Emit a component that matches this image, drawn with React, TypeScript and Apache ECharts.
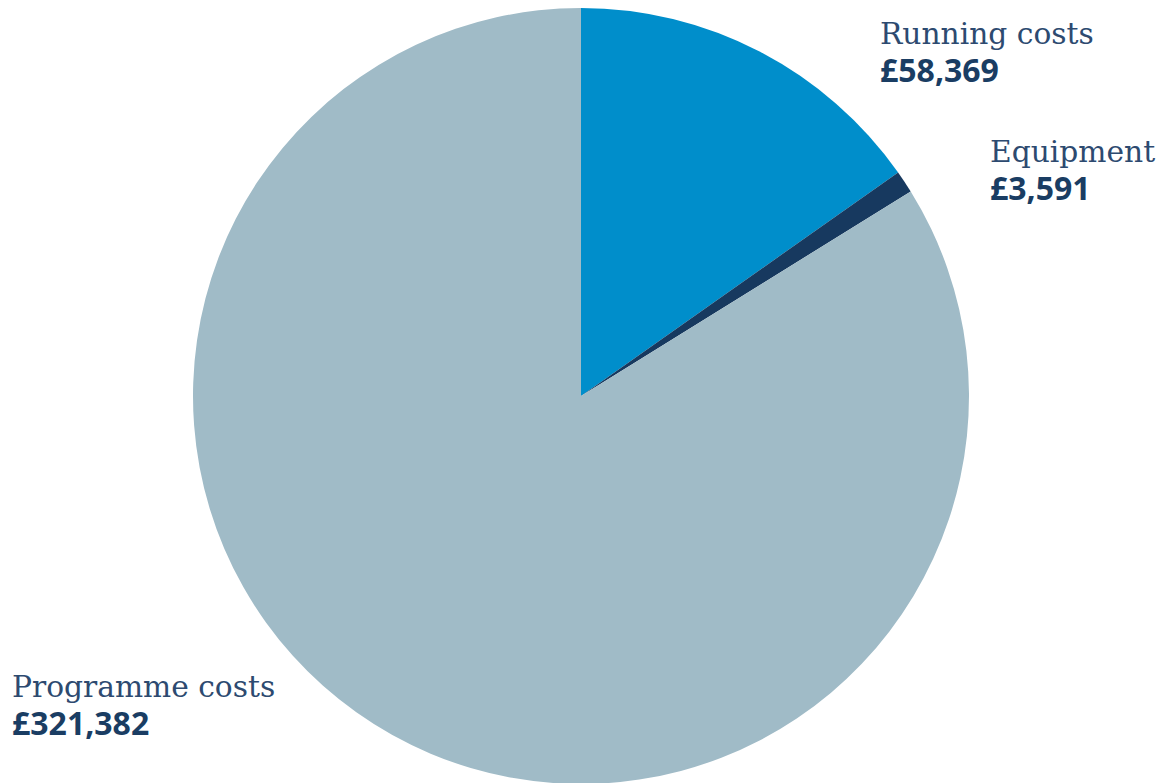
import React, { useEffect, useRef } from "react";
import * as echarts from "echarts";

const categories = ["Running costs", "Equipment", "Programme costs"];
const values = [58369, 3591, 321382];
const valueLabels = ["£58,369", "£3,591", "£321,382"];
const colors = ["#008ecb", "#17395f", "#a0bbc7"];
const labelPos = [
  [880, 18],
  [990, 136],
  [12, 671],
];

export default function App() {
  const ref = useRef<HTMLDivElement>(null);
  useEffect(() => {
    if (!ref.current) return;
    const chart = echarts.init(ref.current, null, { renderer: "svg" });
    const graphics: any[] = [];
    categories.forEach((c, i) => {
      graphics.push({
        type: "text",
        left: labelPos[i][0],
        top: labelPos[i][1],
        style: {
          text: c,
          fill: "#2d4a70",
          font: "300 29.7px 'DejaVu Serif'",
        },
      });
      graphics.push({
        type: "text",
        left: labelPos[i][0],
        top: labelPos[i][1] + 35,
        style: {
          text: valueLabels[i],
          fill: "#1a3d63",
          font: "bold 32px 'Open Sans'",
        },
      });
    });
    chart.setOption({
      animation: false,
      graphic: graphics,
      series: [
        {
          type: "pie",
          center: [581, 396],
          radius: [0, 388],
          startAngle: 90,
          clockwise: true,
          label: { show: false },
          labelLine: { show: false },
          silent: true,
          itemStyle: { borderWidth: 0 },
          data: categories.map((c, i) => ({
            name: c,
            value: values[i],
            itemStyle: { color: colors[i] },
          })),
        },
      ],
    });
    return () => chart.dispose();
  }, []);
  return (
    <div
      ref={ref}
      style={{ position: "fixed", left: 0, top: 0, width: 1169, height: 783, background: "#fff" }}
    />
  );
}
